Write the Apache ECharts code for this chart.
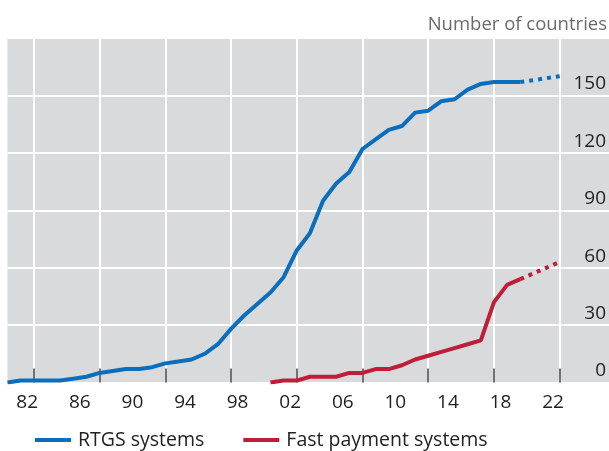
<!DOCTYPE html>
<html>
<head>
<meta charset="utf-8">
<script src="https://cdn.jsdelivr.net/npm/echarts@6/dist/echarts.min.js"></script>
<style>
  html, body { margin: 0; padding: 0; background: #fff; }
  #chart { width: 609px; height: 451px; }
</style>
</head>
<body>
<div id="chart"></div>
<script>
/* Data: points sit on year boundaries, labels sit mid-year */
var rtgsYears = [1981, 1982, 1983, 1984, 1985, 1986, 1987, 1988, 1989, 1990,
                 1991, 1992, 1993, 1994, 1995, 1996, 1997, 1998, 1999, 2000,
                 2001, 2002, 2003, 2004, 2005, 2006, 2007, 2008, 2009, 2010,
                 2011, 2012, 2013, 2014, 2015, 2016, 2017, 2018, 2019, 2020];
var rtgsValues = [0, 1, 1, 1, 1, 2, 3, 5, 6, 7,
                  7, 8, 10, 11, 12, 15, 20, 28, 35, 41,
                  47, 55, 69, 78, 95, 104, 110, 122, 127, 132,
                  134, 141, 142, 147, 148, 153, 156, 157, 157, 157];
var rtgsProjYears = [2020, 2023];
var rtgsProjValues = [157, 160];

var fastYears = [2001, 2002, 2003, 2004, 2005, 2006, 2007, 2008, 2009, 2010,
                 2011, 2012, 2013, 2014, 2015, 2016, 2017, 2018, 2019, 2020];
var fastValues = [0, 1, 1, 3, 3, 3, 5, 5, 7, 7,
                  9, 12, 14, 16, 18, 20, 22, 42, 51, 54];
var fastProjYears = [2020, 2023];
var fastProjValues = [54, 63];

var labelYears = [1982, 1986, 1990, 1994, 1998, 2002, 2006, 2010, 2014, 2018, 2022];
var tickYears = [1983, 1988, 1993, 1998, 2003, 2008, 2013, 2018, 2023];

function pairs(xs, ys) {
  return xs.map(function (x, i) { return [x, ys[i]]; });
}

var FONT = '"Open Sans", "Noto Sans", sans-serif';
var BLUE = '#0a6ebd';
var RED = '#be1e37';

var chart = echarts.init(document.getElementById('chart'));
var option = {
  animation: false,
  backgroundColor: '#ffffff',
  textStyle: { fontFamily: FONT },
  title: {
    text: 'Number of countries',
    right: 2,
    top: 15,
    padding: 0,
    textStyle: { fontFamily: FONT, fontSize: 18.5, fontWeight: 'normal', color: '#6b6b6b' }
  },
  legend: {
    left: 30,
    top: 425,
    icon: 'rect',
    itemWidth: 36,
    itemHeight: 4,
    itemGap: 39,
    data: ['RTGS systems', 'Fast payment systems'],
    textStyle: { fontFamily: FONT, fontSize: 19.5, color: '#222', padding: [0, 0, 0, 2] }
  },
  grid: {
    left: 7.5,
    right: 0,
    top: 38,
    bottom: 68.5,
    show: true,
    backgroundColor: '#d9dadc',
    borderWidth: 0,
    outerBoundsMode: 'none'
  },
  xAxis: {
    type: 'value',
    min: 1981,
    max: 2026.75,
    axisLine: { show: false },
    axisTick: {
      show: true,
      inside: true,
      length: 14,
      customValues: tickYears,
      lineStyle: { color: '#444', width: 1.5 }
    },
    splitLine: { show: true, lineStyle: { color: '#ffffff', width: 2 } },
    axisLabel: {
      customValues: labelYears.map(function (y) { return y + 0.5; }),
      formatter: function (v) { return String(Math.floor(v) % 100).padStart(2, '0'); },
      fontFamily: FONT,
      fontSize: 19,
      color: '#222',
      margin: 11
    }
  },
  yAxis: {
    type: 'value',
    position: 'right',
    min: 0,
    max: 180,
    interval: 30,
    axisLine: { show: false },
    axisTick: { show: false },
    splitLine: { show: true, lineStyle: { color: '#ffffff', width: 2 } },
    axisLabel: {
      inside: true,
      margin: 3,
      showMaxLabel: false,
      verticalAlign: 'bottom',
      padding: [0, 0, 2, 0],
      fontFamily: FONT,
      fontSize: 19,
      color: '#222'
    }
  },
  series: [
    {
      name: 'RTGS systems',
      type: 'line',
      data: pairs(rtgsYears, rtgsValues),
      symbol: 'none',
      color: BLUE,
      lineStyle: { color: BLUE, width: 4 }
    },
    {
      name: 'RTGS systems (expected)',
      type: 'line',
      data: pairs(rtgsProjYears, rtgsProjValues),
      symbol: 'none',
      color: BLUE,
      lineStyle: { color: BLUE, width: 4, type: [4, 5] }
    },
    {
      name: 'Fast payment systems',
      type: 'line',
      data: pairs(fastYears, fastValues),
      symbol: 'none',
      color: RED,
      lineStyle: { color: RED, width: 4 }
    },
    {
      name: 'Fast payment systems (expected)',
      type: 'line',
      data: pairs(fastProjYears, fastProjValues),
      symbol: 'none',
      color: RED,
      lineStyle: { color: RED, width: 4, type: [4, 5] }
    }
  ]
};
option && chart.setOption(option);
</script>
</body>
</html>
